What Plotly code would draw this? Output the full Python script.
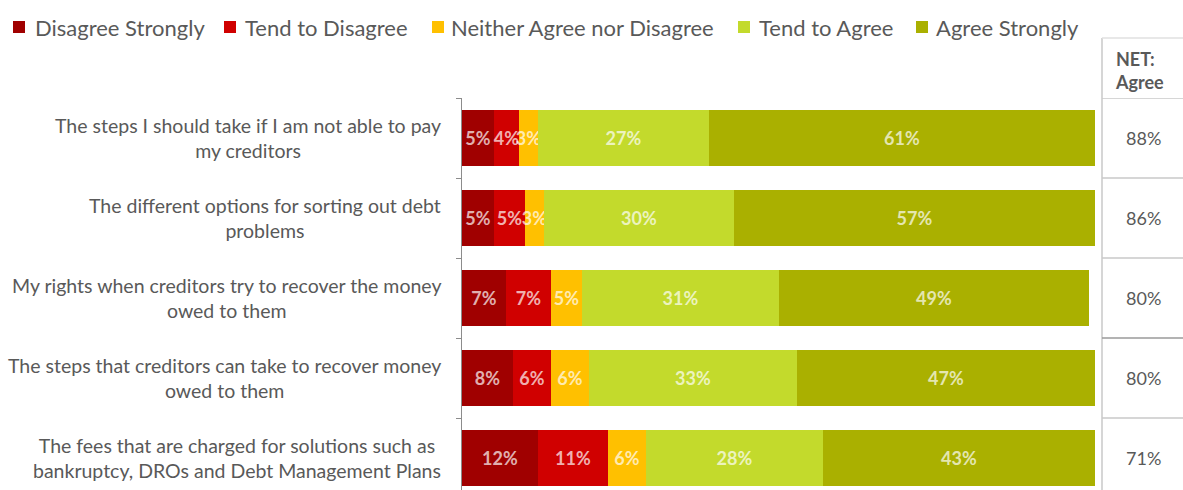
import plotly.graph_objects as go

# Survey statements (top to bottom)
statements = [
    "The steps I should take if I am not able to pay<br>my creditors",
    "The different options for sorting out debt<br>problems",
    "My rights when creditors try to recover the money<br>owed to them",
    "The steps that creditors can take to recover money<br>owed to them",
    "The fees that are charged for solutions such as<br>bankruptcy, DROs and Debt Management Plans",
]

series_names = [
    "Disagree Strongly",
    "Tend to Disagree",
    "Neither Agree nor Disagree",
    "Tend to Agree",
    "Agree Strongly",
]

disagree_strongly = [5, 5, 7, 8, 12]
tend_to_disagree = [4, 5, 7, 6, 11]
neither = [3, 3, 5, 6, 6]
tend_to_agree = [27, 30, 31, 33, 28]
agree_strongly = [61, 57, 49, 47, 43]

net_agree = [88, 86, 80, 80, 71]

series_values = [disagree_strongly, tend_to_disagree, neither, tend_to_agree, agree_strongly]
colors = ["#A00000", "#D00000", "#FFC000", "#C3DA2C", "#AAB000"]

FONT = "Lato"
GREY = "#595959"

W, H = 1183, 490
L, R, T, B = 462, 88, 98, 0
PW, PH = W - L - R, H - T - B


def px_x(px):
    return (px - L) / PW


def px_y(py):
    return (H - B - py) / PH


ypos = list(range(len(statements)))

fig = go.Figure()
for name, vals, col in zip(series_names, series_values, colors):
    fig.add_trace(go.Bar(
        name=name,
        y=ypos,
        x=vals,
        orientation="h",
        width=0.69,
        marker=dict(color=col, line=dict(width=0)),
        text=[f"{v}%" for v in vals],
        textposition="inside",
        insidetextanchor="middle",
        textangle=0,
        constraintext="none",
        cliponaxis=False,
        textfont=dict(family=FONT, size=18, color="rgba(255,255,255,0.7)", weight="bold"),
        showlegend=False,
        hoverinfo="skip",
    ))

annotations = []
shapes = []

# Category labels, centred lines
for i, s in enumerate(statements):
    annotations.append(dict(
        x=0, xref="paper", y=i, yref="y", text=s, showarrow=False,
        xanchor="right", yanchor="middle", xshift=-19, align="center",
        font=dict(family=FONT, size=19.5, color=GREY),
    ))

# Legend row
legend_sq = [13, 224, 432, 738, 916]
legend_tx = [33, 243, 449, 757, 934]
for name, col, sx, tx in zip(series_names, colors, legend_sq, legend_tx):
    shapes.append(dict(
        type="rect", xref="paper", yref="paper",
        x0=px_x(sx), x1=px_x(sx + 12), y0=px_y(33), y1=px_y(21),
        fillcolor=col, line=dict(width=0),
    ))
    annotations.append(dict(
        x=px_x(tx), xref="paper", y=px_y(27), yref="paper", text=name,
        showarrow=False, xanchor="left", yanchor="middle",
        font=dict(family=FONT, size=22, color=GREY),
    ))

# NET: Agree table on the right
tx0 = px_x(1102)
shapes.append(dict(type="line", xref="paper", yref="paper", x0=tx0, x1=tx0,
                   y0=px_y(38), y1=px_y(490), line=dict(color="#D6D6D6", width=2)))
shapes.append(dict(type="line", xref="paper", yref="paper", x0=tx0, x1=px_x(1183),
                   y0=px_y(38), y1=px_y(38), line=dict(color="#E0E0E0", width=1.5)))
for b, c in zip([-0.5, 0.5, 1.5, 2.5, 3.5], ["#C8C8C8", "#C8C8C8", "#C8C8C8", "#9A9A9A", "#C8C8C8"]):
    shapes.append(dict(type="line", xref="paper", yref="y", x0=tx0, x1=px_x(1183),
                       y0=b, y1=b, line=dict(color=c, width=1.5)))

annotations.append(dict(
    x=px_x(1113), xref="paper", y=px_y(70), yref="paper", text="<b>NET:<br>Agree</b>",
    showarrow=False, xanchor="left", yanchor="middle", align="left",
    font=dict(family=FONT, size=18, color=GREY),
))
for i, v in enumerate(net_agree):
    annotations.append(dict(
        x=px_x(1143), xref="paper", y=i, yref="y", text=f"{v}%", showarrow=False,
        xanchor="center", yanchor="middle",
        font=dict(family=FONT, size=18, color=GREY),
    ))

fig.update_layout(
    width=W, height=H,
    margin=dict(l=L, r=R, t=T, b=B, pad=0),
    barmode="stack",
    bargap=0,
    paper_bgcolor="white",
    plot_bgcolor="white",
    xaxis=dict(range=[0, 100], visible=False, fixedrange=True),
    yaxis=dict(
        range=[4.4, -0.5],
        tickvals=ypos, showticklabels=False, ticks="",
        showgrid=False, zeroline=False,
        showline=True, linecolor="#8C8C8C", linewidth=1,
        minor=dict(tickmode="array", tickvals=[-0.5, 0.5, 1.5, 2.5, 3.5],
                   ticks="outside", ticklen=5, tickcolor="#8C8C8C", tickwidth=1),
    ),
    annotations=annotations,
    shapes=shapes,
    showlegend=False,
)

fig.write_html("out.html")
